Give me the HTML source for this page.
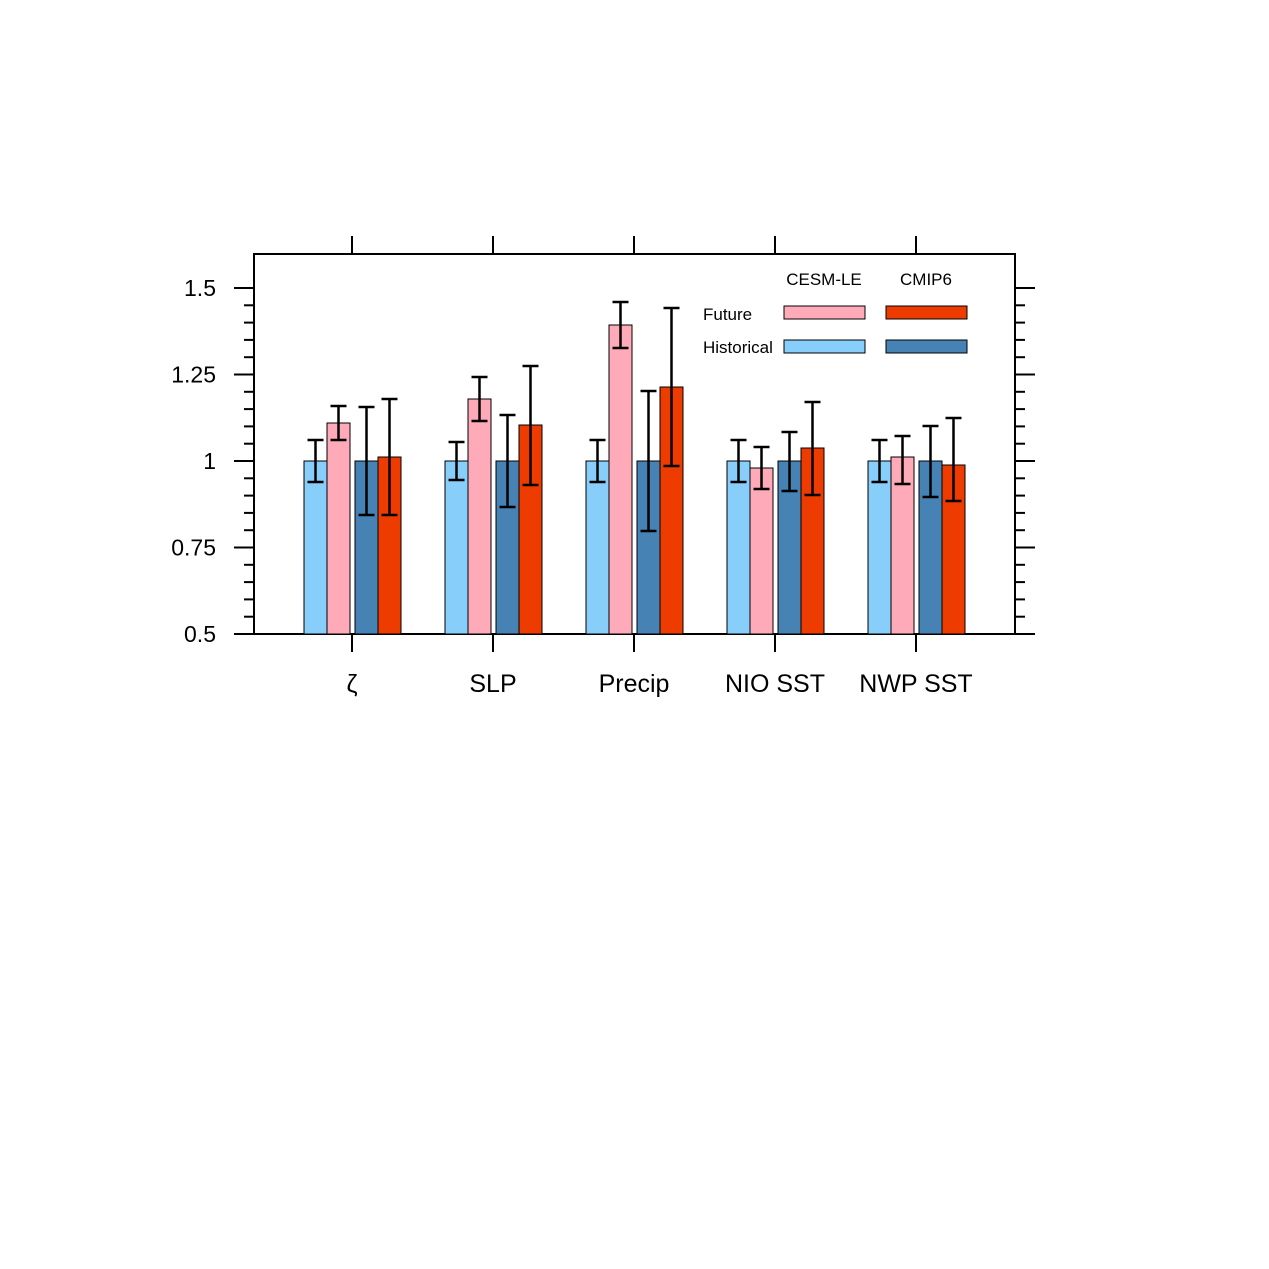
<!DOCTYPE html>
<html><head><style>body{margin:0;background:#fff}svg{display:block}</style></head>
<body>
<svg id="s" width="1269" height="1269" xmlns="http://www.w3.org/2000/svg" font-family="Liberation Sans, DejaVu Sans, sans-serif"></svg>
<script>
var s='';
var LB='#87cefa',PK='#ffaab9',SB='#4682b4',OR='#ee3c00';
// frame
s+='<rect x="254" y="254" width="761" height="380" fill="none" stroke="#000" stroke-width="2"/>';
// y ticks
for(var i=0;i<=20;i++){var y=634-i*17.3;var maj=(i%5==0);
 s+='<line x1="'+(maj?234:244)+'" x2="254" y1="'+y+'" y2="'+y+'" stroke="#000" stroke-width="2"/>';
 s+='<line x1="1015" x2="'+(maj?1035:1025)+'" y1="'+y+'" y2="'+y+'" stroke="#000" stroke-width="2"/>';}
var yl=['0.5','0.75','1','1.25','1.5'];
for(var i=0;i<5;i++){s+='<text x="216" y="'+(634-i*86.5+8)+'" font-size="23" text-anchor="end">'+yl[i]+'</text>';}
var cx=[352,493,634,775,916],names=['ζ','SLP','Precip','NIO SST','NWP SST'];
for(var i=0;i<5;i++){
 s+='<line x1="'+cx[i]+'" x2="'+cx[i]+'" y1="236" y2="254" stroke="#000" stroke-width="2"/>';
 s+='<line x1="'+cx[i]+'" x2="'+cx[i]+'" y1="634" y2="652" stroke="#000" stroke-width="2"/>';
 s+='<text x="'+cx[i]+'" y="692" font-size="25" text-anchor="middle">'+names[i]+'</text>';}
var d=[
[[461,440,482],[423,406,440],[461,407,515],[457,399,515]],
[[461,442,480],[399,377,421],[461,415,507],[425,366,485]],
[[461,440,482],[325,302,348],[461,391,531],[387,308,466]],
[[461,440,482],[468,447,489],[461,432,491],[448,402,495]],
[[461,440,482],[457,436,484],[461,426,497],[465,418,501]]];
var off=[-48,-25,3,26],col=[LB,PK,SB,OR];
for(var g=0;g<5;g++)for(var b=0;b<4;b++){var x=cx[g]+off[b],v=d[g][b];
 s+='<rect x="'+x+'" y="'+v[0]+'" width="23" height="'+(634-v[0])+'" fill="'+col[b]+'" stroke="#000" stroke-width="1"/>';}
for(var g=0;g<5;g++)for(var b=0;b<4;b++){var c=cx[g]+off[b]+11.5,v=d[g][b];
 s+='<line x1="'+c+'" x2="'+c+'" y1="'+v[1]+'" y2="'+v[2]+'" stroke="#000" stroke-width="2.5"/>';
 s+='<line x1="'+(c-8)+'" x2="'+(c+8)+'" y1="'+v[1]+'" y2="'+v[1]+'" stroke="#000" stroke-width="2.5"/>';
 s+='<line x1="'+(c-8)+'" x2="'+(c+8)+'" y1="'+v[2]+'" y2="'+v[2]+'" stroke="#000" stroke-width="2.5"/>';}
// legend
s+='<text x="824" y="285" font-size="17" text-anchor="middle">CESM-LE</text>';
s+='<text x="926" y="285" font-size="17" text-anchor="middle">CMIP6</text>';
s+='<text x="703" y="320" font-size="17">Future</text>';
s+='<text x="703" y="353" font-size="17">Historical</text>';
s+='<rect x="784" y="306" width="81" height="13" fill="'+PK+'" stroke="#000" stroke-width="1"/>';
s+='<rect x="886" y="306" width="81" height="13" fill="'+OR+'" stroke="#000" stroke-width="1"/>';
s+='<rect x="784" y="340" width="81" height="13" fill="'+LB+'" stroke="#000" stroke-width="1"/>';
s+='<rect x="886" y="340" width="81" height="13" fill="'+SB+'" stroke="#000" stroke-width="1"/>';
document.getElementById('s').innerHTML=s;
</script>
</body></html>
